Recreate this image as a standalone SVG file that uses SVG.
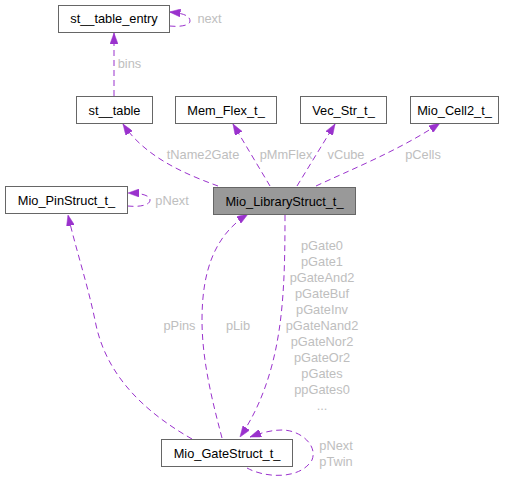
<svg xmlns="http://www.w3.org/2000/svg" width="513" height="483" viewBox="0 0 513 483">
<style>
.node rect{fill:#ffffff;stroke:#666666;stroke-width:1}
.node.hl rect{fill:#999999}
.node text{font-family:"Liberation Sans",Arial,sans-serif;font-size:12.8px;fill:#000000;text-anchor:middle}
.edges path{fill:none;stroke:#9A32CD;stroke-width:1;stroke-dasharray:6,4;marker-end:url(#ah)}
.lbl{font-family:"Liberation Sans",Arial,sans-serif;font-size:12.8px;fill:#BEBEBE;text-anchor:middle}
</style>
<defs>
<marker id="ah" viewBox="0 0 11 8" refX="11" refY="4" markerWidth="11" markerHeight="8" markerUnits="userSpaceOnUse" orient="auto">
<path d="M0,0 L11,4 L0,8 z" fill="#9A32CD" stroke="#9A32CD" stroke-width="0.5"/>
</marker>
</defs>
<rect width="513" height="483" fill="#ffffff"/>
<g id="connectors" class="edges">
<path d="M114,96 L114,33"/>
<path d="M169.5,26 C178,27 190,26 190,21 C190,15 181,13 169.5,12"/>
<path d="M218,186 C185,174 145,157 123,124"/>
<path d="M270,186 L233,124"/>
<path d="M297,186 L335,124"/>
<path d="M316,186 C350,170 400,150 440,123"/>
<path d="M127.5,206 C137,207 150,206 150,200 C150,195 140,193 128,193"/>
<path d="M192,439 C150,415 108,380 96,325 C88,285 76,250 68,215"/>
<path d="M222,438 C212,400 202,360 202,320 C202,270 215,235 248,214"/>
<path d="M285,215 C285,270 284,320 272,365 C264,395 253,418 240,437"/>
<path d="M247,468 C265,478 300,480 312,460 C318,445 300,430 282,430 C270,430 258,434 250,437"/>
</g>
<g class="labels">
<text class="lbl" x="129.5" y="68">bins</text>
<text class="lbl" x="209.5" y="23">next</text>
<text class="lbl" x="203" y="159">tName2Gate</text>
<text class="lbl" x="286" y="159">pMmFlex</text>
<text class="lbl" x="346" y="159">vCube</text>
<text class="lbl" x="423" y="159">pCells</text>
<text class="lbl" x="172" y="205">pNext</text>
<text class="lbl" x="179.5" y="330">pPins</text>
<text class="lbl" x="238" y="330">pLib</text>
<text class="lbl" x="322" y="250">pGate0</text>
<text class="lbl" x="322" y="266">pGate1</text>
<text class="lbl" x="322" y="282">pGateAnd2</text>
<text class="lbl" x="322" y="298">pGateBuf</text>
<text class="lbl" x="322" y="314">pGateInv</text>
<text class="lbl" x="322" y="330">pGateNand2</text>
<text class="lbl" x="322" y="346">pGateNor2</text>
<text class="lbl" x="322" y="362">pGateOr2</text>
<text class="lbl" x="322" y="378">pGates</text>
<text class="lbl" x="322" y="394">ppGates0</text>
<text class="lbl" x="322" y="410">...</text>
<text class="lbl" x="336" y="450">pNext</text>
<text class="lbl" x="336" y="466">pTwin</text>
</g>
<g id="node-st__table_entry" class="node"><rect x="58.5" y="5.5" width="111" height="27"/><text x="114" y="23">st__table_entry</text></g>
<g id="node-st__table" class="node"><rect x="76.5" y="96.5" width="76" height="27"/><text x="114.5" y="114.5">st__table</text></g>
<g id="node-Mem_Flex_t_" class="node"><rect x="175.5" y="96.5" width="101" height="27"/><text x="226" y="114.5">Mem_Flex_t_</text></g>
<g id="node-Vec_Str_t_" class="node"><rect x="300.5" y="96.5" width="86" height="27"/><text x="343.5" y="114.5">Vec_Str_t_</text></g>
<g id="node-Mio_Cell2_t_" class="node"><rect x="410.5" y="96.5" width="88" height="27"/><text x="454.5" y="114.5">Mio_Cell2_t_</text></g>
<g id="node-Mio_LibraryStruct_t_" class="node hl"><rect x="213.5" y="187.5" width="142" height="27"/><text x="284.5" y="205.5">Mio_LibraryStruct_t_</text></g>
<g id="node-Mio_PinStruct_t_" class="node"><rect x="5.5" y="186.5" width="122" height="27"/><text x="66.5" y="204.5">Mio_PinStruct_t_</text></g>
<g id="node-Mio_GateStruct_t_" class="node"><rect x="161.5" y="439.5" width="131" height="27"/><text x="227" y="457.5">Mio_GateStruct_t_</text></g>
</svg>
